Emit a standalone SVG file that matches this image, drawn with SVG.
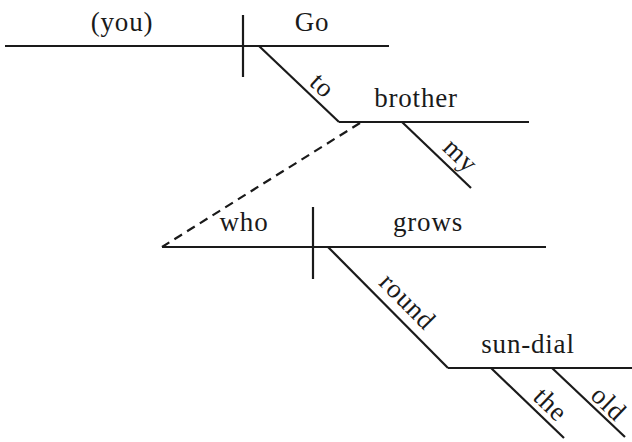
<svg xmlns="http://www.w3.org/2000/svg" width="632" height="442" viewBox="0 0 632 442">
<style>
.ln{stroke:#1a1a1a;stroke-width:2.2;fill:none;stroke-linecap:butt}
.dash{stroke-dasharray:9 6}
text{font-family:"Liberation Serif","DejaVu Serif",serif;font-size:27px;fill:#1a1a1a;text-anchor:middle;letter-spacing:0.8px}
</style>
<rect width="632" height="442" fill="#fff"/>
<g id="connectors">
<line class="ln" x1="5" y1="46" x2="389" y2="46"/>
<line class="ln" x1="243" y1="15" x2="243" y2="77"/>
<line class="ln" x1="259" y1="46" x2="339" y2="122"/>
<line class="ln" x1="339" y1="122" x2="529" y2="122"/>
<line class="ln" x1="402" y1="122" x2="471" y2="188"/>
<line class="ln dash" x1="360" y1="123" x2="162" y2="247"/>
<line class="ln" x1="162" y1="247" x2="546" y2="247"/>
<line class="ln" x1="313" y1="207" x2="313" y2="279"/>
<line class="ln" x1="328" y1="247" x2="448" y2="368"/>
<line class="ln" x1="448" y1="368" x2="632" y2="368"/>
<line class="ln" x1="491" y1="368" x2="564" y2="438"/>
<line class="ln" x1="552" y1="368" x2="625" y2="437"/>
</g>
<g id="you"><text x="122" y="31">(you)</text></g>
<g id="go"><text x="312" y="31">Go</text></g>
<g id="to"><text transform="translate(322,86) rotate(43.5)" y="8">to</text></g>
<g id="brother"><text x="416" y="107">brother</text></g>
<g id="my"><text transform="translate(460,156) rotate(43.7)" y="8">my</text></g>
<g id="who"><text x="244" y="231">who</text></g>
<g id="grows"><text x="428" y="231">grows</text></g>
<g id="round"><text transform="translate(407,302) rotate(45.2)" y="8">round</text></g>
<g id="sundial"><text x="528" y="353">sun-dial</text></g>
<g id="the"><text transform="translate(550,405) rotate(43.8)" y="8">the</text></g>
<g id="old"><text transform="translate(608,404) rotate(43.8)" y="8">old</text></g>
</svg>
